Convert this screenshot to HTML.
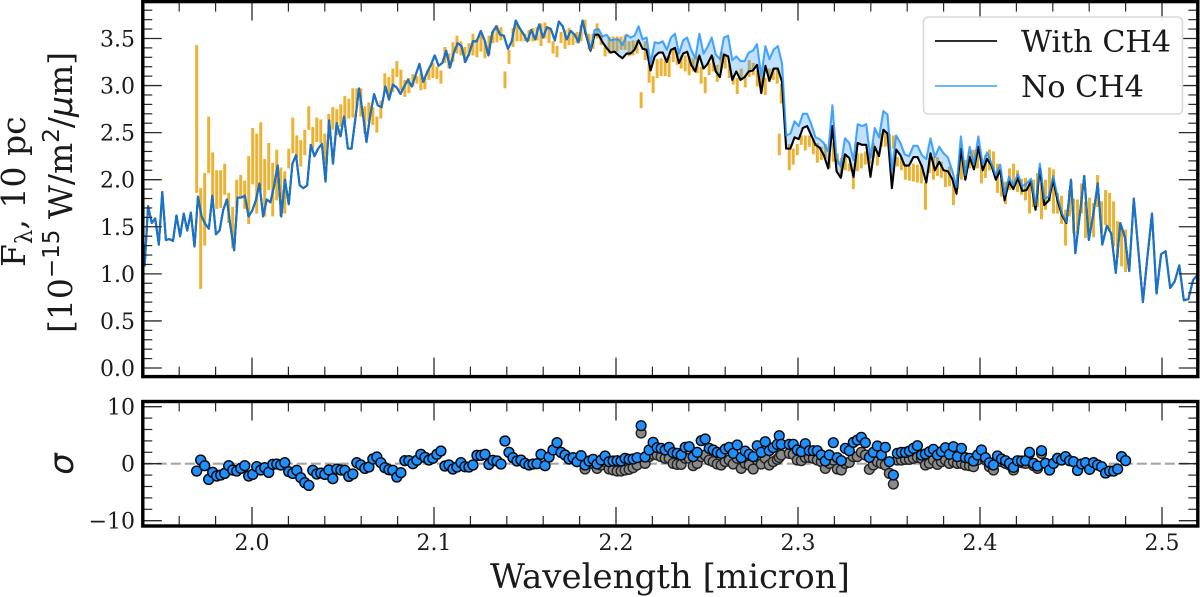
<!DOCTYPE html>
<html lang="en">
<head>
<meta charset="utf-8">
<title>Spectrum with and without CH4</title>
<style>
html,body{margin:0;padding:0;background:#fff;width:1200px;height:597px;overflow:hidden}
svg{display:block}
text{font-family:"DejaVu Serif","Liberation Serif",serif;fill:#1a1a1a}
</style>
</head>
<body>
<svg id="chart" width="1200" height="597" viewBox="0 0 1200 597" xmlns="http://www.w3.org/2000/svg">
  <rect x="0" y="0" width="1200" height="597" fill="#fff"/>
  <g id="flux-marks"></g>
  <g id="sigma-marks"></g>
  <g id="ticks"></g>
  <rect x="142.8" y="1.6" width="1055" height="375" fill="none" stroke="#000" stroke-width="3.4"/>
  <rect x="142.8" y="401.5" width="1055" height="124.5" fill="none" stroke="#000" stroke-width="3.4"/>
  <g id="labels"></g>
  <text transform="translate(25,267) rotate(-90)" font-size="33">F<tspan font-size="23" dy="7">λ</tspan><tspan dy="-7">, 10 pc</tspan></text>
  <text transform="translate(72,333) rotate(-90)" font-size="33">[10<tspan font-size="23" dy="-13" style="font-family:'DejaVu Sans',sans-serif">−15</tspan><tspan dy="13"> W/m</tspan><tspan font-size="23" dy="-13" style="font-family:'DejaVu Sans',sans-serif">2</tspan><tspan dy="13">/</tspan><tspan style="font-family:'DejaVu Sans',sans-serif;font-style:italic">μ</tspan>m]</text>
  <text transform="translate(73,464) rotate(-90)" font-size="34" text-anchor="middle" style="font-family:'DejaVu Sans',sans-serif;font-style:italic">σ</text>
  <text x="490" y="588" font-size="34">Wavelength [micron]</text>
  <g>
    <rect x="923.5" y="17" width="259" height="97" rx="5" fill="#fff" fill-opacity="0.9" stroke="#d9d9d9" stroke-width="1.6"/>
    <line x1="935" x2="997" y1="41" y2="41" stroke="#111" stroke-width="1.7"/>
    <text x="1021" y="52" font-size="30.2">With CH4</text>
    <line x1="935" x2="997" y1="86" y2="86" stroke="#1e90ff" stroke-opacity="0.75" stroke-width="1.7"/>
    <text x="1021" y="97" font-size="30.2">No CH4</text>
  </g>
</svg>
<script>
const modelWave = [
1.9410,1.9429,1.9449,1.9468,1.9488,1.9507,1.9527,1.9546,1.9566,1.9585,
1.9605,1.9625,1.9644,1.9664,1.9684,1.9703,1.9723,1.9743,1.9763,1.9782,
1.9802,1.9822,1.9842,1.9862,1.9882,1.9902,1.9921,1.9941,1.9961,1.9981,
2.0001,2.0021,2.0041,2.0061,2.0081,2.0101,2.0121,2.0141,2.0161,2.0181,
2.0202,2.0222,2.0242,2.0262,2.0282,2.0303,2.0323,2.0343,2.0363,2.0384,
2.0404,2.0424,2.0445,2.0465,2.0486,2.0506,2.0527,2.0547,2.0568,2.0588,
2.0609,2.0629,2.0650,2.0671,2.0691,2.0712,2.0733,2.0753,2.0774,2.0795,
2.0816,2.0836,2.0857,2.0878,2.0899,2.0920,2.0941,2.0962,2.0983,2.1004,
2.1025,2.1046,2.1067,2.1088,2.1109,2.1130,2.1151,2.1172,2.1193,2.1214,
2.1235,2.1257,2.1278,2.1299,2.1320,2.1342,2.1363,2.1384,2.1406,2.1427,
2.1449,2.1470,2.1491,2.1513,2.1534,2.1556,2.1578,2.1599,2.1621,2.1642,
2.1664,2.1686,2.1707,2.1729,2.1751,2.1773,2.1794,2.1816,2.1838,2.1860,
2.1882,2.1904,2.1926,2.1948,2.1970,2.1992,2.2014,2.2036,2.2058,2.2080,
2.2102,2.2124,2.2146,2.2168,2.2190,2.2213,2.2235,2.2257,2.2279,2.2302,
2.2324,2.2346,2.2369,2.2391,2.2413,2.2436,2.2458,2.2481,2.2503,2.2526,
2.2548,2.2571,2.2593,2.2616,2.2639,2.2661,2.2684,2.2707,2.2729,2.2752,
2.2775,2.2798,2.2821,2.2843,2.2866,2.2889,2.2912,2.2935,2.2958,2.2981,
2.3004,2.3027,2.3050,2.3073,2.3096,2.3119,2.3142,2.3166,2.3189,2.3212,
2.3235,2.3258,2.3282,2.3305,2.3328,2.3352,2.3375,2.3398,2.3422,2.3445,
2.3469,2.3492,2.3516,2.3539,2.3563,2.3586,2.3610,2.3634,2.3657,2.3681,
2.3705,2.3728,2.3752,2.3776,2.3800,2.3823,2.3847,2.3871,2.3895,2.3919,
2.3943,2.3967,2.3991,2.4015,2.4039,2.4063,2.4087,2.4111,2.4135,2.4159,
2.4183,2.4208,2.4232,2.4256,2.4280,2.4305,2.4329,2.4353,2.4378,2.4402,
2.4426,2.4451,2.4475,2.4500,2.4524,2.4549,2.4573,2.4598,2.4623,2.4647,
2.4672,2.4697,2.4721,2.4746,2.4771,2.4796,2.4820,2.4845,2.4870,2.4895,
2.4920,2.4945,2.4970,2.4995,2.5020,2.5045,2.5070,2.5095,2.5120,2.5145,
2.5170,2.5195];

const fluxNoCH4 = [
1.08,1.72,1.54,1.59,1.31,1.87,1.36,1.37,1.35,1.62,
1.40,1.64,1.46,1.65,1.29,1.82,1.61,1.53,1.48,1.83,
1.42,1.46,1.68,1.79,1.50,1.25,1.81,1.81,1.83,1.61,
1.67,1.78,1.96,1.61,1.79,1.76,1.93,2.15,1.61,2.00,
1.74,2.17,2.26,1.94,1.91,1.94,2.37,2.25,2.33,2.38,
1.98,2.63,2.17,2.60,2.46,2.67,2.33,2.33,2.65,2.97,
2.70,2.40,2.69,2.91,2.79,2.77,2.99,2.85,3.01,2.98,
2.91,2.99,3.06,2.99,3.11,3.23,3.04,3.14,3.22,3.32,
3.21,3.24,3.37,3.19,3.35,3.45,3.42,3.25,3.34,3.47,
3.47,3.58,3.48,3.32,3.56,3.63,3.54,3.53,3.39,3.47,
3.69,3.61,3.55,3.47,3.59,3.49,3.65,3.51,3.62,3.60,
3.48,3.68,3.63,3.49,3.58,3.54,3.46,3.69,3.54,3.38,
3.59,3.60,3.52,3.54,3.48,3.49,3.49,3.43,3.54,3.51,
3.53,3.63,3.49,3.51,3.24,3.46,3.45,3.47,3.38,3.51,
3.55,3.34,3.48,3.51,3.38,3.29,3.55,3.34,3.41,3.51,
3.33,3.28,3.51,3.53,3.27,3.31,3.26,3.26,3.35,3.37,
3.44,3.10,3.42,3.28,3.38,3.42,3.24,2.47,2.49,2.62,
2.57,2.70,2.70,2.59,2.45,2.43,2.39,2.30,2.79,2.23,
2.14,2.44,2.39,2.21,2.59,2.57,2.59,2.23,2.55,2.45,
2.73,2.69,2.10,2.47,2.39,2.27,2.25,2.36,2.36,2.26,
2.22,2.44,2.24,2.35,2.28,2.24,2.10,1.92,2.46,2.05,
2.35,2.16,2.46,2.16,2.29,2.17,2.05,2.16,1.84,2.03,
1.94,2.06,1.93,1.96,2.01,1.73,2.17,1.80,1.82,2.04,
1.82,1.64,1.55,2.00,1.22,1.64,2.04,1.36,1.64,1.96,
1.31,1.51,1.43,1.01,1.54,1.39,1.03,1.80,1.25,0.70,
1.18,1.64,0.79,1.21,1.24,0.85,0.92,1.09,0.72,0.73,
0.93,0.99];

const fluxWithCH4 = [
1.08,1.72,1.54,1.59,1.31,1.87,1.36,1.37,1.35,1.62,
1.40,1.64,1.46,1.65,1.29,1.82,1.61,1.53,1.48,1.83,
1.42,1.46,1.68,1.79,1.50,1.25,1.81,1.81,1.83,1.61,
1.67,1.78,1.96,1.61,1.79,1.76,1.93,2.15,1.61,2.00,
1.74,2.17,2.26,1.94,1.91,1.94,2.37,2.25,2.33,2.38,
1.98,2.63,2.17,2.60,2.46,2.67,2.33,2.33,2.65,2.97,
2.70,2.40,2.69,2.91,2.79,2.77,2.99,2.85,3.01,2.98,
2.91,2.99,3.06,2.99,3.11,3.23,3.04,3.14,3.22,3.32,
3.21,3.24,3.37,3.19,3.35,3.45,3.42,3.25,3.34,3.47,
3.47,3.58,3.48,3.32,3.56,3.63,3.54,3.53,3.39,3.47,
3.69,3.61,3.55,3.47,3.59,3.49,3.65,3.51,3.62,3.60,
3.48,3.68,3.63,3.49,3.58,3.54,3.46,3.69,3.52,3.37,
3.54,3.54,3.46,3.40,3.35,3.36,3.32,3.29,3.34,3.34,
3.38,3.48,3.39,3.38,3.16,3.31,3.35,3.35,3.25,3.38,
3.40,3.24,3.34,3.36,3.22,3.15,3.32,3.18,3.23,3.32,
3.15,3.09,3.33,3.31,3.06,3.15,3.06,3.09,3.15,3.16,
3.22,2.92,3.21,3.05,3.18,3.18,3.04,2.33,2.33,2.45,
2.43,2.55,2.57,2.47,2.37,2.34,2.26,2.12,2.57,2.09,
2.02,2.27,2.23,2.03,2.39,2.37,2.37,2.03,2.35,2.25,
2.53,2.49,1.91,2.32,2.26,2.15,2.15,2.24,2.24,2.14,
1.97,2.28,2.10,2.19,2.10,2.09,2.01,1.85,2.33,2.00,
2.24,2.11,2.35,2.10,2.22,2.15,2.00,2.10,1.78,1.98,
1.90,2.02,1.88,1.89,1.98,1.68,2.12,1.73,1.78,2.00,
1.78,1.62,1.54,2.00,1.22,1.64,2.04,1.36,1.64,1.96,
1.31,1.51,1.43,1.01,1.54,1.39,1.03,1.80,1.25,0.70,
1.18,1.64,0.79,1.21,1.24,0.85,0.92,1.09,0.72,0.73,
0.93,0.99];

const dataWave = [
1.9696,1.9718,1.9740,1.9762,1.9784,1.9806,1.9828,1.9850,1.9872,1.9894,
1.9916,1.9938,1.9960,1.9982,2.0004,2.0026,2.0048,2.0070,2.0092,2.0114,
2.0136,2.0158,2.0180,2.0202,2.0224,2.0246,2.0268,2.0290,2.0312,2.0334,
2.0356,2.0378,2.0400,2.0422,2.0444,2.0466,2.0488,2.0510,2.0532,2.0554,
2.0576,2.0598,2.0620,2.0642,2.0664,2.0686,2.0708,2.0730,2.0752,2.0774,
2.0796,2.0818,2.0840,2.0862,2.0884,2.0906,2.0928,2.0950,2.0972,2.0994,
2.1016,2.1038,2.1060,2.1082,2.1104,2.1126,2.1148,2.1170,2.1192,2.1214,
2.1236,2.1258,2.1280,2.1302,2.1324,2.1346,2.1368,2.1390,2.1412,2.1434,
2.1456,2.1478,2.1500,2.1522,2.1544,2.1566,2.1588,2.1610,2.1632,2.1654,
2.1676,2.1698,2.1720,2.1742,2.1764,2.1786,2.1808,2.1830,2.1852,2.1874,
2.1896,2.1918,2.1940,2.1962,2.1984,2.2006,2.2028,2.2050,2.2072,2.2094,
2.2116,2.2138,2.2160,2.2182,2.2204,2.2226,2.2248,2.2270,2.2292,2.2314,
2.2336,2.2358,2.2380,2.2402,2.2424,2.2446,2.2468,2.2490,2.2512,2.2534,
2.2556,2.2578,2.2600,2.2622,2.2644,2.2666,2.2688,2.2710,2.2732,2.2754,
2.2776,2.2798,2.2820,2.2842,2.2864,2.2886,2.2897,2.2908,2.2952,2.2974,
2.2996,2.3018,2.3040,2.3062,2.3084,2.3106,2.3128,2.3150,2.3172,2.3194,
2.3216,2.3238,2.3260,2.3282,2.3304,2.3326,2.3348,2.3370,2.3392,2.3414,
2.3436,2.3458,2.3480,2.3502,2.3524,2.3546,2.3568,2.3590,2.3612,2.3634,
2.3656,2.3678,2.3700,2.3722,2.3744,2.3766,2.3788,2.3810,2.3832,2.3854,
2.3876,2.3898,2.3920,2.3942,2.3964,2.3986,2.4008,2.4030,2.4052,2.4074,
2.4096,2.4118,2.4140,2.4162,2.4184,2.4206,2.4228,2.4250,2.4272,2.4294,
2.4316,2.4338,2.4360,2.4382,2.4404,2.4426,2.4448,2.4470,2.4492,2.4514,
2.4536,2.4558,2.4580,2.4602,2.4624,2.4646,2.4668,2.4690,2.4712,2.4734,
2.4756,2.4778,2.4800];

const dataHigh = [
3.43,1.91,2.07,2.67,2.29,2.10,2.10,2.17,1.86,1.71,
2.00,2.05,1.99,2.25,2.55,2.49,2.61,2.22,2.39,2.18,
2.32,2.13,2.09,2.33,2.66,2.47,2.42,2.53,2.78,2.56,
2.66,2.64,2.49,2.70,2.77,2.75,2.80,2.89,2.86,2.97,
2.97,2.97,2.78,2.82,2.77,2.67,2.84,3.13,3.09,3.18,
3.26,3.17,3.06,3.08,3.12,3.10,3.13,3.08,3.18,3.24,
3.20,3.16,3.41,3.34,3.46,3.53,3.47,3.41,3.45,3.55,
3.50,3.54,3.47,3.53,3.59,3.64,3.62,3.15,3.38,3.61,
3.68,3.59,3.55,3.59,3.61,3.62,3.66,3.67,3.61,3.47,
3.42,3.57,3.59,3.61,3.55,3.57,3.64,3.70,3.55,3.55,
3.66,3.54,3.43,3.52,3.52,3.52,3.52,3.54,3.47,3.48,
3.48,2.93,3.47,3.22,3.10,3.28,3.29,3.31,3.31,3.39,
3.36,3.32,3.32,3.31,3.29,3.31,3.20,3.09,3.24,3.31,
3.22,3.36,3.32,3.22,3.11,3.08,3.18,3.11,3.27,3.24,
3.16,3.09,3.08,3.18,3.18,3.18,2.49,3.02,2.38,2.33,
2.38,2.47,2.47,2.47,2.44,2.39,2.35,2.38,2.28,2.39,
2.28,2.23,2.24,2.17,2.10,2.28,2.28,2.30,2.28,2.39,
2.30,2.49,2.51,2.49,2.47,2.24,2.23,2.15,2.14,2.17,
2.16,2.16,1.97,2.23,2.24,2.24,2.19,2.10,2.14,1.98,
2.06,2.32,2.21,2.30,2.32,2.35,2.23,2.26,2.32,2.30,
2.17,2.00,1.98,2.12,2.17,2.10,2.01,2.02,1.96,2.00,
2.07,1.96,2.00,2.13,2.11,1.86,1.83,1.68,1.89,1.80,
1.79,1.96,1.77,1.81,1.75,2.05,1.77,1.89,1.86,1.77,
1.56,1.50,1.47];

const dataLow = [
1.86,0.84,1.30,2.07,1.72,1.69,1.70,1.84,1.54,1.27,
1.70,1.82,1.69,1.53,1.95,1.64,1.89,1.61,1.89,1.61,
1.78,1.61,1.64,2.12,2.28,2.23,2.14,2.26,2.53,2.33,
2.40,2.39,2.16,2.52,2.53,2.47,2.56,2.60,2.65,2.66,
2.78,2.67,2.49,2.62,2.58,2.50,2.65,2.95,2.86,2.93,
3.09,2.95,2.88,2.92,2.99,3.02,2.95,2.96,3.06,3.08,
3.07,3.02,3.24,3.18,3.25,3.34,3.32,3.24,3.31,3.32,
3.30,3.36,3.29,3.32,3.45,3.46,3.48,2.97,3.23,3.41,
3.47,3.47,3.47,3.47,3.47,3.48,3.42,3.50,3.45,3.34,
3.30,3.45,3.39,3.43,3.43,3.45,3.47,3.54,3.38,3.39,
3.50,3.43,3.31,3.34,3.36,3.36,3.38,3.38,3.31,3.32,
3.34,2.76,3.27,3.03,2.92,3.08,3.10,3.10,3.09,3.25,
3.22,3.18,3.15,3.11,3.15,3.13,3.02,2.92,3.11,3.15,
3.04,3.16,3.18,3.08,3.01,2.91,3.06,2.98,3.09,3.11,
2.99,2.92,2.90,3.04,3.06,3.02,2.26,2.81,2.10,2.16,
2.26,2.37,2.31,2.35,2.27,2.18,2.21,2.22,2.12,2.19,
2.16,2.03,2.10,2.09,1.90,2.09,2.12,2.16,2.17,2.24,
2.15,2.35,2.35,2.33,2.33,2.14,2.10,2.00,1.99,1.98,
1.97,1.96,1.68,2.07,2.00,2.04,2.02,1.92,1.93,1.73,
1.90,2.00,2.00,2.12,2.12,2.12,1.96,2.02,2.10,2.09,
1.86,1.82,1.74,1.89,1.92,1.87,1.84,1.78,1.64,1.71,
1.71,1.58,1.68,1.77,1.64,1.64,1.53,1.30,1.61,1.43,
1.43,1.64,1.38,1.46,1.39,1.71,1.43,1.52,1.45,1.29,
1.18,1.08,1.02];

const sigmaNoCH4 = [
-1.29,0.64,-0.35,-2.75,-1.52,-2.16,-1.99,-1.70,-0.35,-1.11,
-1.29,-0.82,-0.35,-2.16,-1.87,-0.53,-1.11,-0.70,-1.52,-0.12,
-0.06,-0.23,0.18,-1.40,-1.70,-1.17,-2.46,-3.33,-3.80,-1.17,
-1.81,-1.64,-1.87,-1.11,-2.63,-0.94,-1.11,-1.17,-2.22,-1.81,
0.18,-0.23,-0.82,-0.59,0.82,1.17,0.18,-0.70,-1.05,-1.17,
-2.34,-1.58,0.53,0.53,0.00,0.59,1.64,1.11,0.64,0.94,
1.64,2.22,-0.41,-0.23,-0.94,-0.59,0.18,-0.53,-0.59,-0.23,
1.46,1.46,1.64,-0.12,0.59,0.47,-0.06,3.98,1.99,1.05,
0.47,0.64,0.06,-0.23,-0.06,0.00,1.64,-0.35,1.17,2.40,
3.69,1.99,1.52,0.82,1.05,0.35,1.40,-0.23,0.47,0.76,
-0.06,0.64,1.35,0.35,0.47,0.53,0.47,0.94,0.76,0.82,
1.05,6.67,1.17,2.40,3.74,2.81,2.69,2.40,2.87,1.93,
1.81,1.52,2.87,2.98,1.23,1.99,4.04,4.33,2.69,2.40,
1.99,1.81,2.57,2.87,1.81,3.28,1.05,2.22,1.64,1.23,
3.16,1.99,3.86,2.28,2.81,3.39,4.91,3.39,3.39,3.39,
2.40,2.11,3.51,2.28,2.28,2.28,1.52,0.47,1.52,3.69,
1.05,0.53,2.69,2.28,3.74,4.15,4.62,3.69,1.11,1.99,
3.10,1.52,2.87,0.35,-1.99,1.81,1.99,1.99,2.22,2.69,
3.16,1.52,1.70,2.11,2.52,1.52,2.11,2.81,1.64,2.98,
1.23,2.69,1.05,0.94,0.47,1.52,2.40,1.05,0.18,-0.23,
1.35,0.82,0.53,0.06,-0.64,0.53,0.47,0.53,1.99,0.06,
-0.41,2.28,0.06,-1.11,0.06,0.94,0.64,1.23,0.53,0.35,
-1.17,-0.06,0.18,-0.99,0.18,-0.23,-0.53,-1.64,-1.29,-1.29,
-0.94,1.23,0.53];

const sigmaWithCH4 = [
-1.29,0.64,-0.35,-2.75,-1.52,-2.16,-1.99,-1.70,-0.35,-1.11,
-1.29,-0.82,-0.35,-2.16,-1.87,-0.53,-1.11,-0.70,-1.52,-0.12,
-0.06,-0.23,0.18,-1.40,-1.70,-1.17,-2.46,-3.33,-3.80,-1.17,
-1.81,-1.64,-1.87,-1.11,-2.63,-0.94,-1.11,-1.17,-2.22,-1.81,
0.18,-0.23,-0.82,-0.59,0.82,1.17,0.18,-0.70,-1.05,-1.17,
-2.34,-1.58,0.53,0.53,0.00,0.59,1.64,1.11,0.64,0.94,
1.64,2.22,-0.41,-0.23,-0.94,-0.59,0.18,-0.53,-0.59,-0.23,
1.46,1.46,1.64,-0.12,0.59,0.47,-0.06,3.98,1.99,1.05,
0.47,0.64,0.06,-0.23,-0.06,0.00,1.64,-0.35,1.17,2.40,
3.69,1.99,1.52,0.82,1.05,0.35,1.40,-0.94,0.06,0.06,
-0.82,-0.23,0.35,-0.94,-1.11,-1.29,-1.29,-1.11,-0.99,-0.70,
-0.23,5.38,0.06,1.23,1.64,1.52,1.23,0.94,0.94,0.06,
-0.12,-0.12,0.94,0.94,-0.35,0.06,1.23,1.52,0.64,0.35,
-0.06,-0.23,0.35,0.64,-0.06,0.94,-0.82,0.06,-0.23,-0.94,
0.64,-0.06,0.94,-0.23,0.35,0.76,1.11,1.52,1.81,1.64,
0.64,0.53,1.11,1.11,0.94,0.64,0.35,-0.82,0.06,0.64,
-0.94,-1.11,0.06,0.23,1.23,1.23,1.99,1.52,-0.99,-0.23,
0.35,0.06,-0.23,-1.70,-3.57,0.64,0.64,0.76,0.76,0.94,
1.11,0.94,-0.23,0.06,0.64,-0.12,0.35,0.64,0.06,0.35,
0.06,0.06,-0.23,-0.35,-0.53,0.64,1.81,0.64,-0.53,-1.11,
0.94,0.35,0.06,-0.23,-1.11,0.35,0.18,0.06,1.81,-0.35,
-0.82,1.81,0.06,-1.11,0.06,0.94,0.64,1.23,0.53,0.35,
-1.17,-0.06,0.18,-0.99,0.18,-0.23,-0.53,-1.64,-1.29,-1.29,
-0.94,1.23,0.53];

const xMajorTicks = [2.0,2.1,2.2,2.3,2.4,2.5];
const xMinorTicks = [1.96,1.98,2.02,2.04,2.06,2.08,2.12,2.14,2.16,2.18,2.22,2.24,2.26,2.28,2.32,2.34,2.36,2.38,2.42,2.44,2.46,2.48];
const xTickLabels = ["2.0","2.1","2.2","2.3","2.4","2.5"];
const fluxMajorTicks = [0,0.5,1,1.5,2,2.5,3,3.5];
const fluxMinorTicks = [0.1,0.2,0.3,0.4,0.6,0.7,0.8,0.9,1.1,1.2,1.3,1.4,1.6,1.7,1.8,1.9,2.1,2.2,2.3,2.4,2.6,2.7,2.8,2.9,3.1,3.2,3.3,3.4,3.6,3.7,3.8];
const fluxTickLabels = ["0.0","0.5","1.0","1.5","2.0","2.5","3.0","3.5"];
const sigmaMajorTicks = [-10,0,10];
const sigmaMinorTicks = [-8,-6,-4,-2,2,4,6,8];
const sigmaTickLabels = ["\u221210","0","10"];

const NS = "http://www.w3.org/2000/svg";
function xScale(w){return 252 + (w - 2) * 1820;}
function yFlux(v){return 368 - 94.15 * v;}
function ySigma(s){return 463.7 - 5.7 * s;}
function make(tag, attrs, parent){
  const el = document.createElementNS(NS, tag);
  for (const k in attrs) el.setAttribute(k, attrs[k]);
  parent.appendChild(el);
  return el;
}
const fluxG = document.getElementById('flux-marks');
const sigmaG = document.getElementById('sigma-marks');
const tickG = document.getElementById('ticks');
const labelG = document.getElementById('labels');

/* error bars */
dataWave.forEach(function(w, i){
  const bar = make('line', {x1:xScale(w), x2:xScale(w), y1:yFlux(dataHigh[i]), y2:yFlux(dataLow[i]), stroke:'#e69f00', 'stroke-opacity':0.8, 'stroke-width':3}, fluxG);
  
  
});

/* shaded difference */
let fillPts = [];
modelWave.forEach(function(w, i){ fillPts.push(xScale(w).toFixed(2) + ',' + yFlux(fluxNoCH4[i]).toFixed(2)); });
for (let i = modelWave.length - 1; i >= 0; i--) fillPts.push(xScale(modelWave[i]).toFixed(2) + ',' + yFlux(fluxWithCH4[i]).toFixed(2));
const band = make('polygon', {points:fillPts.join(' '), fill:'#1e90ff', 'fill-opacity':0.27, stroke:'none'}, fluxG);



function pathOf(series){
  return modelWave.map(function(w, i){ return xScale(w).toFixed(2) + ',' + yFlux(series[i]).toFixed(2); }).join(' ');
}
const lineWith = make('polyline', {points:pathOf(fluxWithCH4), fill:'none', stroke:'#000', 'stroke-width':2.1, 'stroke-linejoin':'round'}, fluxG);


const lineNo = make('polyline', {points:pathOf(fluxNoCH4), fill:'none', stroke:'#1e90ff', 'stroke-opacity':0.8, 'stroke-width':2.1, 'stroke-linejoin':'round'}, fluxG);



/* sigma panel */
const zero = make('line', {x1:xScale(1.94), x2:xScale(2.52), y1:ySigma(0), y2:ySigma(0), stroke:'#a6a6a6', 'stroke-width':2.2, 'stroke-dasharray':'10 4'}, sigmaG);


dataWave.forEach(function(w, i){
  const pt = make('circle', {cx:xScale(w), cy:ySigma(sigmaWithCH4[i]), r:4.9, fill:'#8a8a8a', stroke:'#222', 'stroke-width':1.4}, sigmaG);
  
  
});
dataWave.forEach(function(w, i){
  const pt = make('circle', {cx:xScale(w), cy:ySigma(sigmaNoCH4[i]), r:4.9, fill:'#1e90ff', stroke:'#0a0a0a', 'stroke-width':1.4}, sigmaG);
  
  
});

/* ticks */
function tick(x1, y1, x2, y2, w){
  const t = make('line', {x1:x1, y1:y1, x2:x2, y2:y2, stroke:'#2a2a2a', 'stroke-width':w}, tickG);
  
  
}
const panels = [[1.6, 376.6], [401.5, 526]];
panels.forEach(function(p){
  xMajorTicks.forEach(function(w){
    tick(xScale(w), p[0], xScale(w), p[0] + 19, 1.3);
    tick(xScale(w), p[1], xScale(w), p[1] - 19, 1.3);
  });
  xMinorTicks.forEach(function(w){
    tick(xScale(w), p[0], xScale(w), p[0] + 10, 1.2);
    tick(xScale(w), p[1], xScale(w), p[1] - 10, 1.2);
  });
});
function yTicks(values, scale, len, w){
  values.forEach(function(v){
    tick(142.8, scale(v), 142.8 + len, scale(v), w);
    tick(1197.8, scale(v), 1197.8 - len, scale(v), w);
  });
}
yTicks(fluxMajorTicks, yFlux, 19, 1.3);
yTicks(fluxMinorTicks, yFlux, 9.5, 1.2);
yTicks(sigmaMajorTicks, ySigma, 19, 1.3);
yTicks(sigmaMinorTicks, ySigma, 9.5, 1.2);

/* tick labels */
function label(x, y, str, anchor){
  const t = make('text', {x:x, y:y, 'font-size':22, 'text-anchor':anchor}, labelG);
  t.textContent = str;
  
  
}
xMajorTicks.forEach(function(w, i){ label(xScale(w), 550, xTickLabels[i], 'middle'); });
fluxMajorTicks.forEach(function(v, i){ label(135, yFlux(v) + 8, fluxTickLabels[i], 'end'); });
sigmaMajorTicks.forEach(function(v, i){ label(135, ySigma(v) + 8, sigmaTickLabels[i], 'end'); });
</script>
</body>
</html>
